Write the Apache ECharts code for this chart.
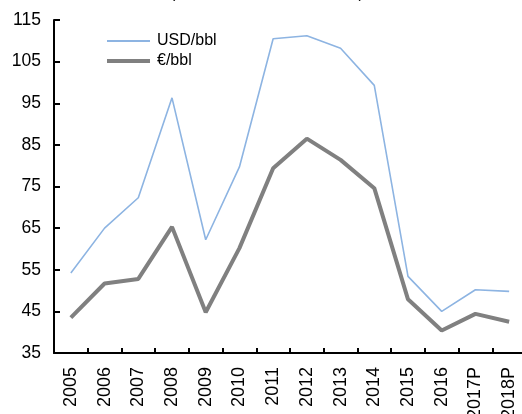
<!DOCTYPE html>
<html><head><meta charset="utf-8">
<script src="https://cdn.jsdelivr.net/npm/echarts@6/dist/echarts.min.js"></script>
<style>html,body{margin:0;padding:0;background:#fff}#c{width:522px;height:414px}</style>
</head><body><div id="c"></div>
<script>
var titleText = '(Brent oil in USD and EUR)';
var categories = ['2005','2006','2007','2008','2009','2010','2011','2012','2013','2014','2015','2016','2017P','2018P'];
var usdValues = [54.2, 65.0, 72.3, 96.3, 62.2, 79.7, 110.5, 111.2, 108.2, 99.3, 53.4, 45.0, 50.2, 49.8];
var eurValues = [43.5, 51.7, 52.8, 65.3, 44.8, 60.2, 79.4, 86.5, 81.4, 74.6, 47.9, 40.4, 44.4, 42.5];
var yTicks = {min: 35, max: 115, interval: 10};

var FONT = 'Liberation Sans, Arial, sans-serif';
var chart = echarts.init(document.getElementById('c'), null, {renderer: 'canvas'});
function legendFor(name, top, thick) {
  return {
    left: 107, top: top, orient: 'vertical', itemWidth: 43, itemHeight: thick, padding: 0,
    icon: 'rect',
    textStyle: {fontSize: 16, color: '#000', fontFamily: FONT, padding: [0,0,0,2]},
    data: [name]
  };
}
chart.setOption({
  animation: false,
  backgroundColor: '#ffffff',
  textStyle: {fontFamily: FONT},
  title: {
    text: titleText, left: 170, top: -14, padding: 0,
    textStyle: {fontSize: 16, fontWeight: 'normal', color: '#000', fontFamily: FONT}
  },
  legend: [legendFor('USD/bbl', 33, 2), legendFor('€/bbl', 53, 4)],
  grid: {left: 54, top: 20, bottom: 61, right: -4, containLabel: false, outerBoundsMode: 'none'},
  xAxis: {
    type: 'category', data: categories, boundaryGap: true,
    axisLine: {lineStyle: {color: '#000', width: 2}},
    axisTick: {show: true, inside: true, length: 5, interval: 0, lineStyle: {color: '#000', width: 2}},
    axisLabel: {rotate: 90, interval: 0, margin: 14, fontSize: 18, color: '#000', fontFamily: FONT},
    splitLine: {show: false}
  },
  yAxis: {
    type: 'value', min: yTicks.min, max: yTicks.max, interval: yTicks.interval,
    axisLine: {show: true, lineStyle: {color: '#000', width: 2}},
    axisTick: {show: true, inside: true, length: 6, lineStyle: {color: '#000', width: 2}},
    axisLabel: {margin: 13, fontSize: 17.5, color: '#000', fontFamily: FONT},
    splitLine: {show: false}
  },
  series: [
    {name: 'USD/bbl', type: 'line', data: usdValues, symbol: 'none',
     lineStyle: {color: '#8DB4E2', width: 1.6}, itemStyle: {color: '#8DB4E2'}},
    {name: '€/bbl', type: 'line', data: eurValues, symbol: 'none',
     lineStyle: {color: '#808080', width: 4}, itemStyle: {color: '#808080'}}
  ]
});
</script>
</body></html>
